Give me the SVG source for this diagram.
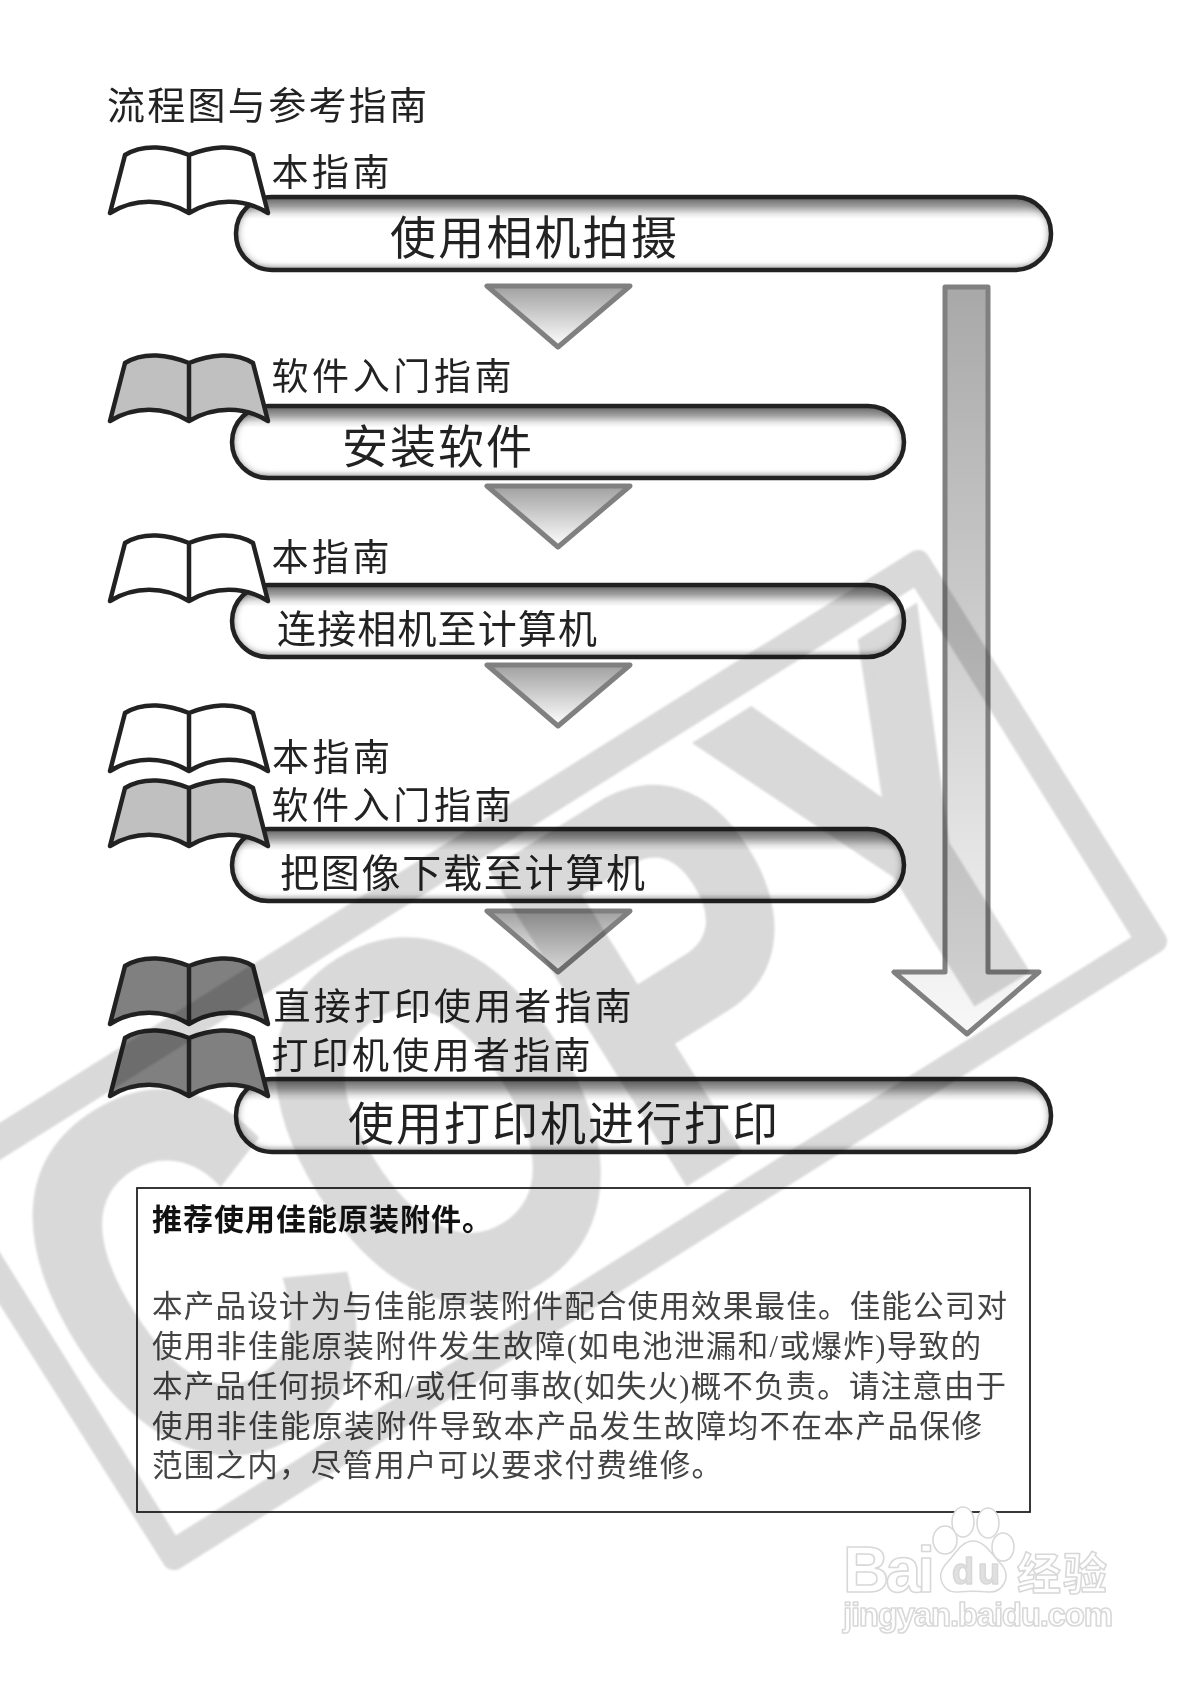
<svg xmlns="http://www.w3.org/2000/svg" width="1185" height="1683" viewBox="0 0 1185 1683">
<defs>
<style>
text{font-family:"Noto Sans CJK SC","Liberation Sans",sans-serif;fill:#222}
.title{font-size:38px}
.lab{font-size:37px}
.big{font-size:46px}
.mid{font-size:39px}
.bold{font-size:30px;font-weight:700;fill:#111}
.body{font-size:30.5px;font-family:"Liberation Serif","Noto Sans CJK SC",serif;fill:#444}
.pill{fill:url(#pillG)}
.edge{fill:none;stroke:#222;stroke-width:4.5}
.bk{stroke:#222;stroke-width:4.5;stroke-linejoin:round}
.white{fill:#fff}.light{fill:#c0c0c0}.dark{fill:#808080}
.tri{fill:url(#triG);stroke:#808080;stroke-width:5;stroke-linejoin:round}
#wm{mix-blend-mode:multiply}
#wm path,#wm text{fill:#d9d9d9}
#baidu *{fill:#fff;stroke:#d8d8d8;stroke-width:1.6;stroke-linejoin:round}
#baidu .du{fill:#e0e0e0}
</style>
<linearGradient id="triG" x1="0" y1="0" x2="0" y2="1"><stop offset="0" stop-color="#a0a0a0"/><stop offset="1" stop-color="#fff"/></linearGradient>
<linearGradient id="arrG" gradientUnits="userSpaceOnUse" x1="0" y1="286" x2="0" y2="1035"><stop offset="0" stop-color="#a8a8a8"/><stop offset="1" stop-color="#f8f8f8"/></linearGradient>
<linearGradient id="pillG" x1="0" y1="0" x2="0" y2="1"><stop offset="0" stop-color="#707070"/><stop offset=".13" stop-color="#a0a0a0"/><stop offset=".23" stop-color="#e6e6e6"/><stop offset=".3" stop-color="#fff"/><stop offset=".9" stop-color="#fff"/><stop offset="1" stop-color="#d8d8d8"/></linearGradient>
<filter id="inner" x="-3%" y="-20%" width="106%" height="140%" color-interpolation-filters="sRGB">
<feComponentTransfer in="SourceAlpha" result="inv"><feFuncA type="table" tableValues="1 0"/></feComponentTransfer>
<feGaussianBlur in="inv" stdDeviation="4" result="bl"/>
<feFlood flood-color="#555" result="c"/>
<feComposite in="c" in2="bl" operator="in" result="s"/>
<feComposite in="s" in2="SourceAlpha" operator="in" result="si"/>
<feMerge><feMergeNode in="SourceGraphic"/><feMergeNode in="si"/></feMerge>
</filter>
<filter id="soft" x="-5%" y="-5%" width="110%" height="110%"><feGaussianBlur stdDeviation="0.7"/></filter>
<filter id="soft2" filterUnits="userSpaceOnUse" x="0" y="0" width="1185" height="1683"><feGaussianBlur stdDeviation="0.8"/></filter>
<path id="book" d="M0,-58 C-20,-66 -45,-70 -64,-58 L-79,0 C-55,-15 -25,-15 0,0 C25,-15 55,-15 79,0 L64,-58 C45,-70 20,-66 0,-58 Z M0,-58 V0"/>
</defs>
<rect width="1185" height="1683" fill="#fff"/>
<text class="title" x="107" y="119" textLength="320">流程图与参考指南</text>

<g id="connectors">
<polygon class="tri" points="487,286 630,286 558,347"/>
<polygon class="tri" points="487,486 630,486 558,547"/>
<polygon class="tri" points="487,665 630,665 558,726"/>
<polygon class="tri" points="487,911 630,911 558,972"/>
<path fill="url(#arrG)" stroke="#808080" stroke-width="5" stroke-linejoin="round" d="M945,287 H988 V972 H1039 L967,1034 L894,972 H945 Z"/>
</g>

<g id="step1">
<g filter="url(#inner)"><rect class="pill" x="236" y="197" width="815" height="73" rx="36"/></g><rect class="edge" x="236" y="197" width="815" height="73" rx="36"/>
<text class="big" x="390" y="254" textLength="287">使用相机拍摄</text>
<text class="lab" x="271.5" y="186" textLength="118">本指南</text>
<use href="#book" class="bk white" x="189" y="213"/>
</g>
<g id="step2">
<g filter="url(#inner)"><rect class="pill" x="232" y="406" width="672" height="72" rx="36"/></g><rect class="edge" x="232" y="406" width="672" height="72" rx="36"/>
<text class="big" x="342" y="463" textLength="190">安装软件</text>
<text class="lab" x="271.5" y="390" textLength="240">软件入门指南</text>
<use href="#book" class="bk light" x="189" y="421"/>
</g>
<g id="step3">
<g filter="url(#inner)"><rect class="pill" x="232" y="585" width="672" height="72" rx="36"/></g><rect class="edge" x="232" y="585" width="672" height="72" rx="36"/>
<text class="mid" x="277" y="643" textLength="320">连接相机至计算机</text>
<text class="lab" x="271.5" y="571" textLength="118">本指南</text>
<use href="#book" class="bk white" x="189" y="601"/>
</g>
<g id="step4">
<g filter="url(#inner)"><rect class="pill" x="232" y="829" width="672" height="72" rx="36"/></g><rect class="edge" x="232" y="829" width="672" height="72" rx="36"/>
<text class="mid" x="280" y="887" textLength="365">把图像下载至计算机</text>
<text class="lab" x="272" y="771" textLength="118">本指南</text>
<text class="lab" x="271.5" y="819" textLength="240">软件入门指南</text>
<use href="#book" class="bk white" x="189" y="771"/>
<use href="#book" class="bk light" x="189" y="846"/>
</g>
<g id="step5">
<g filter="url(#inner)"><rect class="pill" x="236" y="1079" width="815" height="73" rx="36"/></g><rect class="edge" x="236" y="1079" width="815" height="73" rx="36"/>
<text class="big" x="348" y="1140" textLength="430">使用打印机进行打印</text>
<text class="lab" x="273.5" y="1020" textLength="358">直接打印使用者指南</text>
<text class="lab" x="271.5" y="1069" textLength="319">打印机使用者指南</text>
<use href="#book" class="bk dark" x="189" y="1024"/>
<use href="#book" class="bk dark" x="189" y="1096"/>
</g>

<g id="note">
<rect x="137" y="1188" width="893" height="324" fill="#fff" stroke="#222" stroke-width="1.8"/>
<text class="bold" x="152" y="1230" textLength="340">推荐使用佳能原装附件。</text>
<text class="body" x="152" y="1317" textLength="855">本产品设计为与佳能原装附件配合使用效果最佳。佳能公司对</text>
<text class="body" x="152" y="1357" textLength="829">使用非佳能原装附件发生故障(如电池泄漏和/或爆炸)导致的</text>
<text class="body" x="152" y="1397" textLength="854">本产品任何损坏和/或任何事故(如失火)概不负责。请注意由于</text>
<text class="body" x="152" y="1437" textLength="830">使用非佳能原装附件导致本产品发生故障均不在本产品保修</text>
<text class="body" x="152" y="1476" textLength="570">范围之内，尽管用户可以要求付费维修。</text>
</g>

<g id="wm" filter="url(#soft2)">
<path fill-rule="evenodd" stroke="#d9d9d9" stroke-width="24" stroke-linejoin="round" d="M-66,1178 L918,562 L1155,941 L174,1558 Z M-58,1182 L918,571 L1148,941 L172,1552 Z"/>
<text transform="translate(164,1506) rotate(-32) scale(.75,1)" x="0" y="0" font-size="525" font-weight="700" stroke="#d9d9d9" stroke-width="12" style="font-family:'Liberation Sans',sans-serif;font-kerning:none">COPY</text>
</g>

<g id="baidu" filter="url(#soft)">
<ellipse cx="945" cy="1540" rx="12" ry="14"/><ellipse cx="963" cy="1522" rx="11" ry="15"/><ellipse cx="988" cy="1523" rx="11" ry="15"/><ellipse cx="1003" cy="1547" rx="11" ry="14"/>
<path d="M973,1541 C985,1541 992,1555 1002,1565 C1012,1578 1002,1593 988,1592 C978,1591 968,1591 958,1592 C944,1593 935,1578 945,1565 C955,1555 961,1541 973,1541 Z"/>
<text x="843" y="1592" font-size="64" font-weight="700" textLength="92" style="font-family:'Liberation Sans',sans-serif">Bai</text>
<text class="du" x="952" y="1584" font-size="36" font-weight="700" textLength="48" style="font-family:'Liberation Sans',sans-serif">du</text>
<text x="1017" y="1590" font-size="44" font-weight="700" textLength="90">经验</text>
<text x="843" y="1626" font-size="33" font-weight="700" textLength="270" style="font-family:'Liberation Sans',sans-serif">jingyan.baidu.com</text>
</g>
</svg>
